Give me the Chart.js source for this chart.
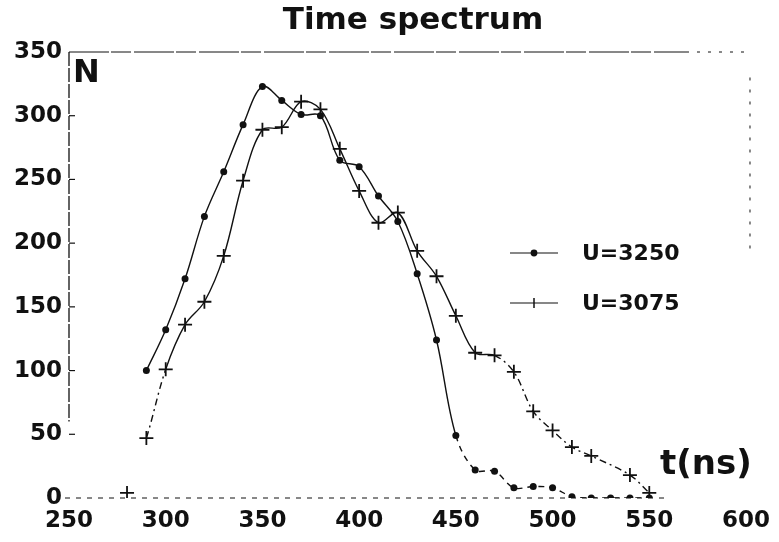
<!DOCTYPE html>
<html>
<head>
<meta charset="utf-8">
<title>Time spectrum</title>
<script src="https://cdn.jsdelivr.net/npm/chart.js@4.4.1/dist/chart.umd.min.js"></script>
<style>
    html, body { margin: 0; padding: 0; background: #fff; }
    #wrap { width: 779px; height: 542px; }
</style>
</head>
<body>
<div id="wrap"><canvas id="spectrum"></canvas></div>
<script>
// Data
const timeNs = [280, 290, 300, 310, 320, 330, 340, 350, 360, 370, 380, 390, 400, 410, 420, 430, 440, 450, 460, 470, 480, 490, 500, 510, 520, 530, 540, 550];
const countsU3250 = [null, 100, 132, 172, 221, 256, 293, 323, 312, 301, 300, 265, 260, 237, 217, 176, 124, 49, 22, 21, 8, 9, 8, 1, 0, 0, 0, 0];
const countsU3075 = [4, 47, 101, 136, 154, 190, 249, 289, 291, 311, 305, 274, 241, 216, 224, 194, 174, 143, 114, 112, 99, 68, 53, 40, 33, null, 18, 4];
const seriesLabels = ['U=3250', 'U=3075'];
const xTicks = [250, 300, 350, 400, 450, 500, 550, 600];
const yTicks = [0, 50, 100, 150, 200, 250, 300, 350];

const INK = '#111';
const FONT = '"DejaVu Sans", sans-serif';

function toPoints(values) {
    return timeNs.map((t, i) => ({ x: t, y: values[i] }));
}

// Decorations: frame, inward ticks, title, axis names and legend
const decorPlugin = {
    id: 'decor',
    afterDraw(chart) {
        const ctx = chart.ctx;
        const area = chart.chartArea;
        const xs = chart.scales.x;
        const ys = chart.scales.y;
        ctx.save();
        ctx.strokeStyle = INK;

        // left axis
        ctx.lineWidth = 1.3;
        ctx.setLineDash([14, 2]);
        ctx.beginPath();
        ctx.moveTo(area.left, area.top);
        ctx.lineTo(area.left, ys.getPixelForValue(60));
        ctx.stroke();

        // top frame
        ctx.lineWidth = 1;
        ctx.setLineDash([40, 2, 20, 3]);
        ctx.beginPath();
        ctx.moveTo(area.left, area.top);
        ctx.lineTo(area.right - 60, area.top);
        ctx.stroke();
        ctx.setLineDash([3, 8]);
        ctx.beginPath();
        ctx.moveTo(area.right - 60, area.top);
        ctx.lineTo(area.right, area.top);
        ctx.stroke();

        // right frame (partly visible)
        ctx.setLineDash([3, 9]);
        ctx.beginPath();
        ctx.moveTo(area.right + 4, ys.getPixelForValue(330));
        ctx.lineTo(area.right + 4, ys.getPixelForValue(190));
        ctx.stroke();

        // zero baseline
        ctx.setLineDash([5, 6]);
        ctx.lineWidth = 1;
        ctx.beginPath();
        ctx.moveTo(area.left - 4, ys.getPixelForValue(0));
        ctx.lineTo(xs.getPixelForValue(560), ys.getPixelForValue(0));
        ctx.stroke();

        // inward ticks on the y axis
        ctx.setLineDash([]);
        ctx.lineWidth = 1.2;
        yTicks.slice(1, -1).forEach(v => {
            const py = ys.getPixelForValue(v);
            ctx.beginPath();
            ctx.moveTo(area.left, py);
            ctx.lineTo(area.left + 6, py);
            ctx.stroke();
        });

        // texts
        ctx.fillStyle = INK;
        ctx.textBaseline = 'middle';
        ctx.textAlign = 'center';
        ctx.font = 'bold 31px ' + FONT;
        ctx.fillText('Time spectrum', 413, 21);
        ctx.textAlign = 'left';
        ctx.font = 'bold 32px ' + FONT;
        ctx.fillText('N', area.left + 4, 74);
        ctx.font = 'bold 34px ' + FONT;
        ctx.fillText('t(ns)', 660, 465);

        // legend
        const legendRows = [
            { label: seriesLabels[0], y: 253, marker: 'dot' },
            { label: seriesLabels[1], y: 303, marker: 'plus' }
        ];
        legendRows.forEach(row => {
            ctx.lineWidth = 1.2;
            ctx.beginPath();
            ctx.moveTo(510, row.y);
            ctx.lineTo(558, row.y);
            ctx.stroke();
            if (row.marker === 'dot') {
                ctx.beginPath();
                ctx.arc(534, row.y, 3.4, 0, Math.PI * 2);
                ctx.fill();
            } else {
                ctx.lineWidth = 1.5;
                ctx.beginPath();
                ctx.moveTo(534, row.y - 5);
                ctx.lineTo(534, row.y + 5);
                ctx.stroke();
            }
            ctx.font = 'bold 22px ' + FONT;
            ctx.fillText(row.label, 582, row.y + 1);
        });
        ctx.restore();
    }
};

const ctx = document.getElementById('spectrum').getContext('2d');
new Chart(ctx, {
    type: 'line',
    data: {
        datasets: [
            {
                label: seriesLabels[0],
                data: toPoints(countsU3250),
                borderColor: INK,
                backgroundColor: INK,
                borderWidth: 1.4,
                pointStyle: 'circle',
                pointRadius: 3.5,
                pointBorderWidth: 0,
                tension: 0.35,
                spanGaps: true,
                segment: {
                    borderDash: s => s.p0DataIndex >= 17 ? [6, 5] : undefined
                }
            },
            {
                label: seriesLabels[1],
                data: toPoints(countsU3075),
                borderColor: INK,
                backgroundColor: INK,
                borderWidth: 1.4,
                pointStyle: 'cross',
                pointRadius: 7,
                pointBorderWidth: 1.8,
                tension: 0.35,
                spanGaps: true,
                segment: {
                    borderColor: s => s.p0DataIndex === 0 ? 'rgba(0,0,0,0)' : INK,
                    borderDash: s => (s.p0DataIndex === 1 || s.p0DataIndex >= 19) ? [7, 4, 2, 4] : undefined
                }
            }
        ]
    },
    options: {
        responsive: true,
        maintainAspectRatio: false,
        animation: false,
        layout: { padding: { top: 52, right: 30, left: 0, bottom: 0 } },
        plugins: {
            legend: { display: false },
            title: { display: false },
            tooltip: { enabled: false }
        },
        scales: {
            x: {
                type: 'linear',
                min: 250,
                max: 600,
                afterFit: s => { s.height = 44; },
                afterBuildTicks: s => { s.ticks = xTicks.map(v => ({ value: v })); },
                grid: { display: false, drawTicks: false },
                border: { display: false },
                ticks: {
                    color: INK,
                    padding: 9,
                    maxRotation: 0,
                    font: { family: FONT, size: 23, weight: 'bold' }
                }
            },
            y: {
                min: 0,
                max: 350,
                afterFit: s => { s.width = 69; },
                afterBuildTicks: s => { s.ticks = yTicks.map(v => ({ value: v })); },
                grid: { display: false, drawTicks: false },
                border: { display: false },
                ticks: {
                    color: INK,
                    padding: 7,
                    font: { family: FONT, size: 23, weight: 'bold' }
                }
            }
        }
    },
    plugins: [decorPlugin]
});
</script>
</body>
</html>
